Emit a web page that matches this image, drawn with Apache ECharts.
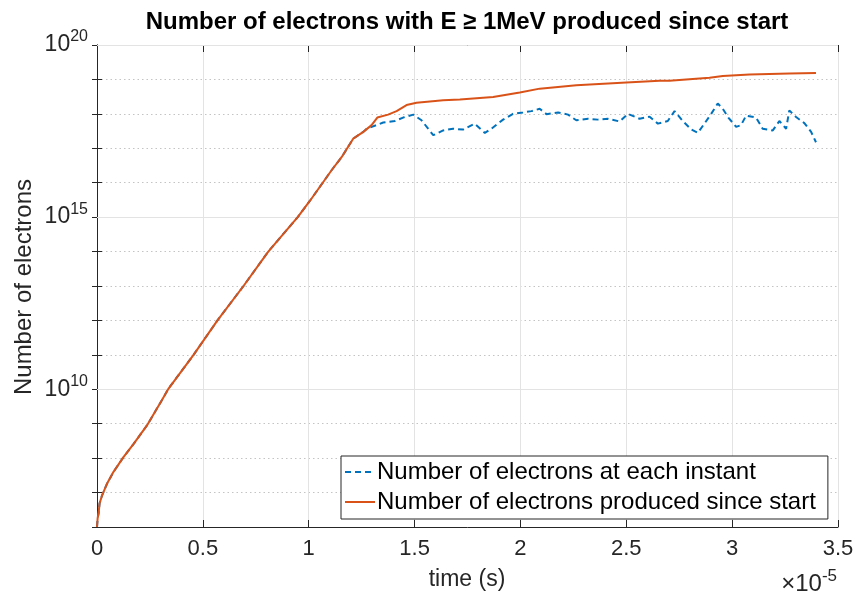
<!DOCTYPE html>
<html>
<head>
<meta charset="utf-8">
<script src="https://cdn.jsdelivr.net/npm/echarts@6/dist/echarts.min.js"></script>
<style>
  html, body { margin: 0; padding: 0; background: #fff; }
  #chart { width: 860px; height: 595px; }
</style>
</head>
<body>
<div id="chart"></div>
<script>
// time values are in units of 1e-5 s (axis shows "x10^-5")
const timeCum = [0, 0.003, 0.0075, 0.012, 0.024, 0.047, 0.078, 0.125, 0.173, 0.236, 0.307, 0.338, 0.456, 0.569,
  0.692, 0.809, 0.948, 1.006, 1.108, 1.156, 1.21, 1.258, 1.297, 1.324, 1.375, 1.415, 1.462, 1.509, 1.635, 1.714,
  1.871, 1.997, 2.091, 2.264, 2.5, 2.657, 2.704, 2.893, 2.956, 3.082, 3.27, 3.396];
const electronsCum = [1e6, 1.8e6, 2.5e6, 4.8e6, 8.3e6, 1.8e7, 4.0e7, 1.07e8, 2.6e8, 8.9e8, 4.9e9, 1.05e10, 1e11,
  1e12, 1e13, 1e14, 1e15, 3.0e15, 2.3e16, 5.6e16, 1.9e17, 3.0e17, 4.7e17, 7.8e17, 9.5e17, 1.2e18, 1.8e18, 2.1e18,
  2.5e18, 2.6e18, 3.1e18, 4.2e18, 5.4e18, 6.8e18, 8.1e18, 9.1e18, 9.1e18, 1.12e19, 1.26e19, 1.38e19, 1.48e19,
  1.55e19];

const timeInst = [0, 0.003, 0.0075, 0.012, 0.024, 0.047, 0.078, 0.125, 0.173, 0.236, 0.307, 0.338, 0.456, 0.569,
  0.692, 0.809, 0.948, 1.006, 1.108, 1.156, 1.21, 1.258, 1.274, 1.352, 1.407, 1.446, 1.494, 1.533, 1.588, 1.635,
  1.682, 1.729, 1.784, 1.832, 1.863, 1.918, 1.965, 2.012, 2.052, 2.091, 2.123, 2.178, 2.225, 2.264, 2.319, 2.366,
  2.413, 2.469, 2.508, 2.563, 2.61, 2.649, 2.696, 2.728, 2.767, 2.807, 2.838, 2.869, 2.901, 2.932, 2.956, 2.982,
  3.019, 3.042, 3.066, 3.113, 3.144, 3.192, 3.223, 3.255, 3.27, 3.302, 3.341, 3.373, 3.396];
const electronsInst = [1e6, 1.8e6, 2.5e6, 4.8e6, 8.3e6, 1.8e7, 4.0e7, 1.07e8, 2.6e8, 8.9e8, 4.9e9, 1.05e10, 1e11,
  1e12, 1e13, 1e14, 1e15, 3.0e15, 2.3e16, 5.6e16, 1.9e17, 3.0e17, 3.7e17, 5.6e17, 6.2e17, 7.8e17, 9.5e17, 6.5e17,
  2.4e17, 3.3e17, 3.7e17, 3.5e17, 5.2e17, 2.8e17, 3.7e17, 6.8e17, 1.0e18, 1.1e18, 1.2e18, 1.4e18, 9.8e17, 1.1e18,
  9.5e17, 6.5e17, 7.2e17, 6.8e17, 7.2e17, 6.0e17, 1.0e18, 7.2e17, 8.3e17, 5.2e17, 6.2e17, 1.2e18, 6.2e17, 3.5e17,
  2.8e17, 5.2e17, 1.0e18, 2.0e18, 1.4e18, 7.8e17, 4.2e17, 4.7e17, 8.9e17, 7.8e17, 3.7e17, 3.3e17, 6.2e17, 3.7e17,
  1.26e18, 8.1e17, 5.4e17, 3.0e17, 1.5e17];

const yLabelExponents = [10, 15, 20];
const seriesNames = ['Number of electrons at each instant', 'Number of electrons produced since start'];

const chart = echarts.init(document.getElementById('chart'));
const axisColor = '#262626';
const font = '"Liberation Sans", Arial, Helvetica, sans-serif';

const yCommon = {
  type: 'log',
  logBase: 10,
  min: 1e6,
  max: 1e20,
  interval: 1,
  axisLine: { show: true, lineStyle: { color: axisColor, width: 1 } },
  axisTick: { show: true, inside: true, length: 5, lineStyle: { color: axisColor } }
};
const xCommon = {
  type: 'value',
  min: 0,
  max: 3.5,
  interval: 0.5,
  axisLine: { show: true, onZero: false, lineStyle: { color: axisColor, width: 1 } },
  axisTick: { show: true, inside: true, length: 7, lineStyle: { color: axisColor } }
};

option = {
  animation: false,
  backgroundColor: '#fff',
  grid: { left: 97, top: 45, right: 22, bottom: 68, outerBoundsMode: 'none' },
  xAxis: [
    Object.assign({}, xCommon, {
      position: 'bottom',
      splitLine: { show: true, lineStyle: { color: '#e3e3e3', width: 1 } },
      axisLabel: { color: axisColor, fontSize: 22, fontFamily: font, margin: 11 }
    }),
    Object.assign({}, xCommon, {
      position: 'top',
      splitLine: { show: false },
      axisLabel: { show: false }
    })
  ],
  yAxis: [
    Object.assign({}, yCommon, {
      position: 'left',
      splitLine: { show: true, lineStyle: { color: '#c4c4c4', width: 1, type: [1.5, 3] } },
      axisLabel: {
        margin: 9,
        fontFamily: font,
        formatter: function (v) {
          const e = Math.round(Math.log10(v));
          return yLabelExponents.indexOf(e) >= 0 ? '{b|10}{s|' + e + '}' : '';
        },
        rich: {
          b: { fontSize: 23, color: axisColor, fontFamily: font },
          s: { fontSize: 16, color: axisColor, fontFamily: font, padding: [0, 0, 16, 0] }
        }
      }
    }),
    Object.assign({}, yCommon, {
      position: 'right',
      splitLine: { show: false },
      axisLabel: { show: false }
    })
  ],
  legend: {
    orient: 'vertical',
    left: 341,
    top: 456,
    data: seriesNames,
    itemWidth: 30,
    itemHeight: 12,
    itemGap: 6,
    padding: [4, 12, 5, 3],
    backgroundColor: '#fff',
    borderColor: axisColor,
    borderWidth: 1,
    borderRadius: 0,
    itemStyle: { opacity: 0 },
    textStyle: { fontSize: 24, lineHeight: 24, color: '#000', fontFamily: font, padding: [0, 0, 0, -3] }
  },
  graphic: [
    {
      type: 'text', x: 467, y: 22, z: 100,
      style: {
        text: 'Number of electrons with E \u2265 1MeV produced since start',
        font: 'bold 24px ' + font, fill: '#000', textAlign: 'center', textVerticalAlign: 'middle'
      }
    },
    {
      type: 'text', x: 467, y: 580, z: 100,
      style: { text: 'time (s)', font: '23px ' + font, fill: axisColor, textAlign: 'center', textVerticalAlign: 'middle' }
    },
    {
      type: 'text', x: 24, y: 287, rotation: Math.PI / 2, z: 100,
      style: { text: 'Number of electrons', font: '24px ' + font, fill: axisColor, textAlign: 'center', textVerticalAlign: 'middle' }
    },
    {
      type: 'text', x: 837, y: 584, z: 100,
      style: {
        text: '{b|\u00d710}{s|-5}', textAlign: 'right', textVerticalAlign: 'middle',
        rich: {
          b: { fontSize: 24, fill: axisColor, fontFamily: font },
          s: { fontSize: 17, fill: axisColor, fontFamily: font, padding: [0, 0, 15, 0] }
        }
      }
    }
  ],
  series: [
    {
      name: seriesNames[0],
      type: 'line',
      xAxisIndex: 0,
      yAxisIndex: 0,
      data: timeInst.map((t, i) => [t, electronsInst[i]]),
      showSymbol: false,
      symbol: 'none',
      symbolSize: 0,
      color: '#0072BD',
      lineStyle: { color: '#0072BD', width: 2, type: [6, 4] },
      z: 2,
      markLine: {
        z: 1,
        silent: true,
        symbol: 'none',
        label: { show: false },
        lineStyle: { color: '#e3e3e3', width: 1, type: 'solid' },
        data: yLabelExponents.map(e => ({ yAxis: Math.pow(10, e) }))
      }
    },
    {
      name: seriesNames[1],
      type: 'line',
      xAxisIndex: 0,
      yAxisIndex: 0,
      data: timeCum.map((t, i) => [t, electronsCum[i]]),
      showSymbol: false,
      symbol: 'none',
      symbolSize: 0,
      color: '#D95319',
      lineStyle: { color: '#D95319', width: 2 },
      z: 3
    }
  ]
};

chart.setOption(option);
</script>
</body>
</html>
